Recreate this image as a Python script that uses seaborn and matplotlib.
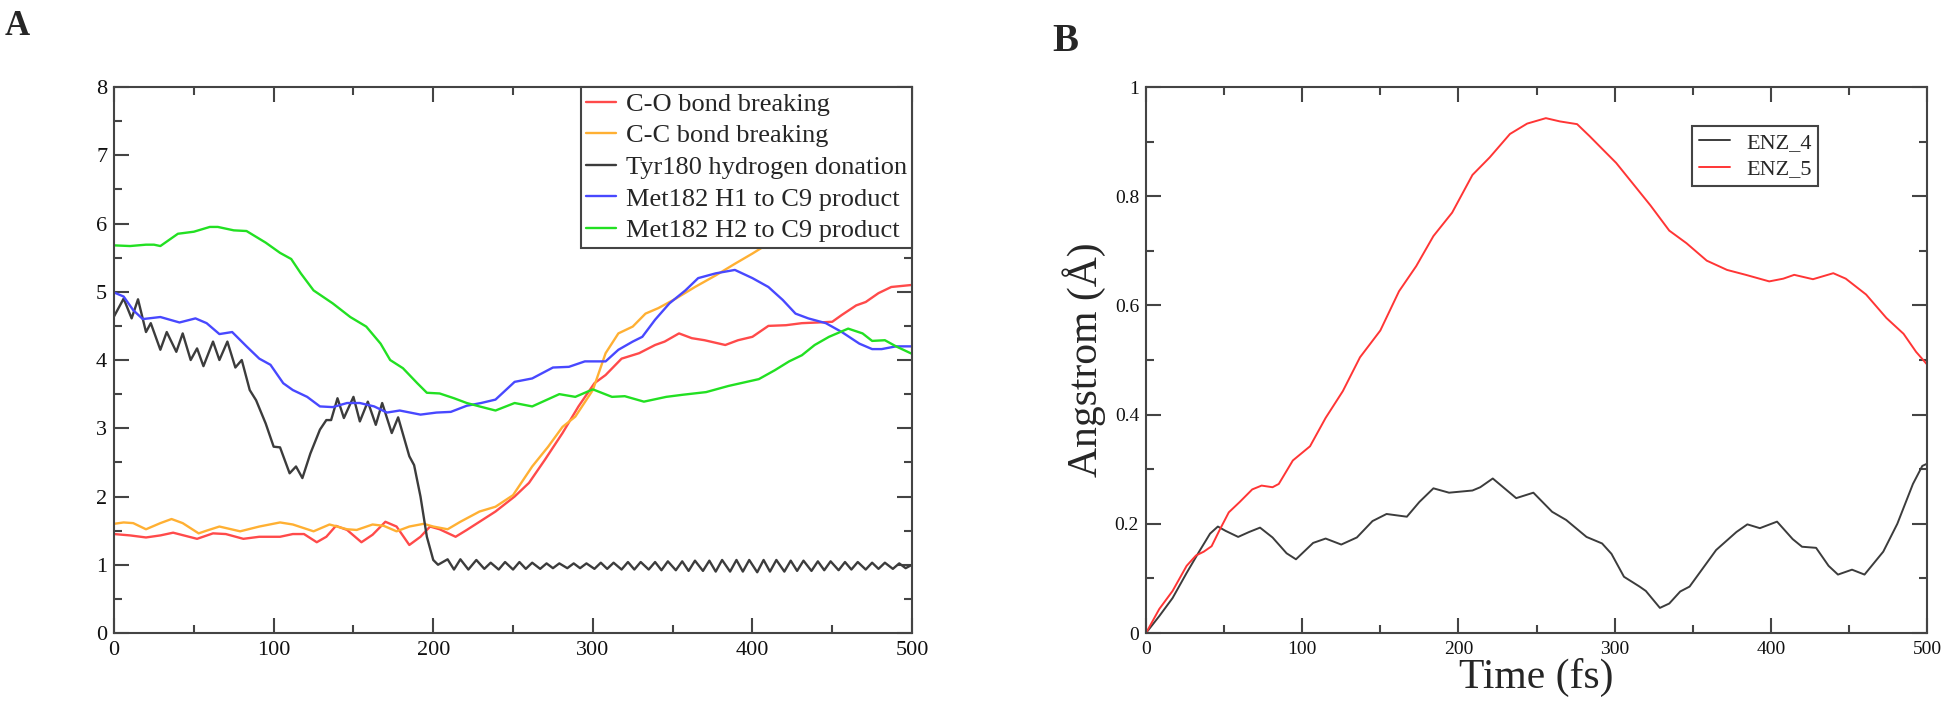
import pandas as pd
import matplotlib
matplotlib.use("Agg")
import matplotlib.pyplot as plt
import seaborn as sns
from matplotlib.ticker import MultipleLocator, FuncFormatter

# ---- panel A: distances (Angstrom) vs time (fs) ----
co_t = [0, 10, 20, 29, 37, 47, 52, 62, 70, 81, 91, 104, 112, 119, 127, 133, 139, 146, 155, 162,
        170, 177, 185, 192, 198, 204, 214, 221, 229, 239, 251, 260, 270, 281, 291, 301, 308, 318,
        329, 339, 345, 354, 362, 370, 383, 391, 400, 410, 421, 431, 441, 450, 456, 465, 471, 479,
        487, 500]
co_v = [1.45, 1.43, 1.40, 1.43, 1.47, 1.41, 1.38, 1.46, 1.45, 1.38, 1.41, 1.41, 1.45, 1.45, 1.33,
        1.41, 1.57, 1.51, 1.33, 1.44, 1.63, 1.56, 1.29, 1.41, 1.56, 1.52, 1.41, 1.51, 1.63, 1.78,
        2.00, 2.20, 2.54, 2.93, 3.32, 3.66, 3.78, 4.02, 4.10, 4.22, 4.27, 4.39, 4.32, 4.29, 4.22,
        4.29, 4.34, 4.50, 4.51, 4.54, 4.55, 4.56, 4.66, 4.80, 4.85, 4.98, 5.07, 5.10]

cc_t = [0, 6, 12, 20, 29, 36, 43, 53, 58, 66, 79, 91, 104, 112, 125, 135, 146, 152, 162, 169, 177,
        185, 194, 200, 209, 217, 229, 239, 250, 262, 272, 281, 289, 300, 308, 316, 325, 333, 341,
        352, 364, 377, 389, 400, 420, 450, 480, 500]
cc_v = [1.60, 1.62, 1.61, 1.52, 1.61, 1.67, 1.61, 1.46, 1.50, 1.56, 1.49, 1.56, 1.62, 1.59, 1.49,
        1.59, 1.52, 1.51, 1.59, 1.57, 1.49, 1.56, 1.60, 1.56, 1.52, 1.63, 1.78, 1.85, 2.02, 2.44,
        2.73, 3.02, 3.17, 3.56, 4.10, 4.39, 4.49, 4.68, 4.76, 4.90, 5.07, 5.24, 5.41, 5.56, 5.85,
        6.30, 6.70, 7.00]

tyr_t = [0, 6, 11, 15, 20, 23, 29, 33, 39, 43, 48, 52, 56, 62, 66, 71, 76, 80, 85, 89, 95, 100,
         104, 110, 114, 118, 123, 129, 133, 136, 140, 144, 150, 154, 159, 164, 168, 174, 178, 185,
         188, 192, 196, 200, 203, 209, 213, 217, 222, 227, 232, 236, 241,
         245, 250, 254, 258, 262, 267, 271, 275, 279, 284, 288, 292, 296, 301, 305, 309, 313, 318,
         322, 326, 330, 335, 339, 343, 347, 352, 356, 360, 364, 369, 373, 377, 381, 386, 390, 394,
         398, 403, 407, 411, 415, 420, 424, 428, 432, 437, 441, 445, 449, 454, 458, 462, 466, 471,
         475, 479, 483, 488, 492, 496, 500]
tyr_v = [4.64, 4.90, 4.61, 4.89, 4.41, 4.54, 4.15, 4.41, 4.12, 4.39, 4.00, 4.17, 3.91, 4.27, 4.00,
         4.27, 3.89, 4.00, 3.56, 3.41, 3.07, 2.73, 2.72, 2.34, 2.44, 2.27, 2.63, 2.98, 3.12, 3.12,
         3.44, 3.15, 3.46, 3.10, 3.39, 3.05, 3.37, 2.93, 3.16, 2.59, 2.46, 2.00, 1.41, 1.07, 1.00,
         1.08, 0.93, 1.08, 0.93, 1.07, 0.94, 1.03, 0.93,
         1.04, 0.93, 1.04, 0.94, 1.03, 0.94, 1.02, 0.95, 1.02, 0.95, 1.02, 0.95, 1.02, 0.94, 1.03,
         0.94, 1.03, 0.93, 1.04, 0.93, 1.04, 0.93, 1.04, 0.92, 1.05, 0.92, 1.05, 0.91, 1.06, 0.91,
         1.06, 0.90, 1.07, 0.90, 1.07, 0.90, 1.07, 0.89, 1.07, 0.90, 1.07, 0.90, 1.06, 0.91, 1.06,
         0.91, 1.05, 0.92, 1.05, 0.92, 1.04, 0.93, 1.04, 0.93, 1.03, 0.94, 1.03, 0.94, 1.02, 0.95,
         1.00]

h1_t = [0, 6, 12, 18, 29, 35, 41, 51, 58, 66, 74, 83, 91, 98, 106, 112, 121, 129, 137, 146, 154,
        163, 171, 179, 192, 202, 211, 221, 230, 239, 251, 262, 275, 285, 295, 308, 316, 325, 331,
        339, 348, 358, 366, 377, 389, 400, 410, 419, 427, 435, 446, 456, 467, 475, 481, 490, 500]
h1_v = [4.99, 4.93, 4.73, 4.60, 4.63, 4.59, 4.55, 4.61, 4.54, 4.38, 4.41, 4.20, 4.02, 3.93, 3.66,
        3.56, 3.46, 3.32, 3.31, 3.37, 3.37, 3.32, 3.23, 3.26, 3.20, 3.23, 3.24, 3.33, 3.37, 3.42,
        3.68, 3.73, 3.89, 3.90, 3.98, 3.98, 4.15, 4.27, 4.34, 4.59, 4.83, 5.02, 5.20, 5.27, 5.32,
        5.20, 5.07, 4.88, 4.68, 4.61, 4.54, 4.41, 4.24, 4.16, 4.16, 4.20, 4.20]

h2_t = [0, 10, 20, 25, 29, 40, 50, 60, 65, 75, 83, 95, 104, 111, 117, 125, 137, 148, 158, 167, 173,
        181, 190, 196, 204, 213, 221, 229, 239, 251, 262, 279, 289, 300, 312, 320, 332, 346, 356,
        371, 385, 404, 414, 423, 431, 439, 448, 460, 469, 475, 483, 490, 500]
h2_v = [5.68, 5.67, 5.69, 5.69, 5.67, 5.85, 5.88, 5.95, 5.95, 5.90, 5.89, 5.72, 5.57, 5.48, 5.27,
        5.02, 4.83, 4.63, 4.49, 4.24, 4.00, 3.88, 3.66, 3.52, 3.51, 3.44, 3.37, 3.32, 3.26, 3.37,
        3.32, 3.50, 3.46, 3.57, 3.46, 3.47, 3.39, 3.46, 3.49, 3.53, 3.62, 3.72, 3.85, 3.98, 4.07,
        4.22, 4.34, 4.46, 4.39, 4.28, 4.29, 4.20, 4.09]

labels_a = ["C-O bond breaking", "C-C bond breaking", "Tyr180 hydrogen donation",
            "Met182 H1 to C9 product", "Met182 H2 to C9 product"]
colors_a = ["#ff4a4a", "#ffb033", "#3c3c3c", "#4848ff", "#22e022"]

# ---- panel B: displacement (Angstrom) vs time (fs) ----
enz4_t = [0, 8.5, 17, 26, 34, 41, 46, 51, 59, 66, 73, 81, 90, 96, 107, 115, 125, 135, 145, 154,
          167, 175, 184, 194, 209, 214, 222, 237, 248, 260, 269, 282, 292, 298, 306, 316, 320, 329,
          335, 342, 348, 365, 378, 385, 393, 404, 414, 420, 429, 437, 443, 452, 460, 472, 481, 491,
          497, 500]
enz4_v = [0, 0.031, 0.064, 0.110, 0.149, 0.182, 0.195, 0.187, 0.176, 0.185, 0.193, 0.175, 0.146,
          0.135, 0.165, 0.173, 0.162, 0.175, 0.205, 0.218, 0.213, 0.240, 0.265, 0.257, 0.261, 0.267,
          0.283, 0.247, 0.257, 0.222, 0.207, 0.176, 0.164, 0.145, 0.103, 0.085, 0.077, 0.046, 0.054,
          0.076, 0.085, 0.152, 0.185, 0.199, 0.192, 0.204, 0.172, 0.158, 0.156, 0.123, 0.107, 0.116,
          0.107, 0.149, 0.200, 0.273, 0.306, 0.310]

enz5_t = [0, 8.5, 17, 26, 32, 37, 42, 47, 53, 60, 68, 74, 81, 85, 94, 105, 115, 126, 137, 150, 162,
          173, 184, 196, 209, 220, 233, 244, 256, 265, 276, 284, 293, 301, 312, 323, 335, 346, 359,
          372, 384, 399, 408, 415, 427, 440, 448, 461, 474, 485, 493, 500]
enz5_v = [0, 0.044, 0.077, 0.123, 0.142, 0.149, 0.159, 0.188, 0.221, 0.240, 0.263, 0.270, 0.267,
          0.273, 0.316, 0.342, 0.394, 0.443, 0.505, 0.554, 0.626, 0.672, 0.727, 0.770, 0.839, 0.871,
          0.914, 0.933, 0.943, 0.937, 0.932, 0.910, 0.884, 0.861, 0.822, 0.783, 0.737, 0.714, 0.682,
          0.665, 0.656, 0.644, 0.649, 0.656, 0.648, 0.659, 0.649, 0.620, 0.577, 0.548, 0.515, 0.492]

labels_b = ["ENZ_4", "ENZ_5"]
colors_b = ["#3c3c3c", "#ff3535"]


def long_frame(parts):
    return pd.concat([pd.DataFrame({"t": t, "v": v, "series": name}) for name, t, v in parts],
                     ignore_index=True)


def style_axes(ax, ymax, ymajor, yminor, labelsize):
    ax.set_xlim(0, 500)
    ax.set_ylim(0, ymax)
    ax.xaxis.set_major_locator(MultipleLocator(100))
    ax.xaxis.set_minor_locator(MultipleLocator(50))
    ax.yaxis.set_major_locator(MultipleLocator(ymajor))
    ax.yaxis.set_minor_locator(MultipleLocator(yminor))
    fmt = FuncFormatter(lambda x, pos: "%g" % round(x, 3))
    ax.xaxis.set_major_formatter(fmt)
    ax.yaxis.set_major_formatter(fmt)
    ax.tick_params(which="both", direction="in", top=True, right=True, color="#444444",
                   labelsize=labelsize, labelcolor="#111111")
    ax.tick_params(which="major", length=11, width=1.5)
    ax.tick_params(which="minor", length=5.5, width=1.5)
    ax.tick_params(axis="x", which="major", pad=6)
    ax.tick_params(axis="y", which="major", pad=5)
    for s in ax.spines.values():
        s.set_color("#444444")
        s.set_linewidth(1.5)
        s.set_visible(True)
    ax.set_xlabel("")
    ax.set_ylabel("")


sns.set_style("ticks")
plt.rcParams["font.family"] = ["Liberation Serif", "DejaVu Serif"]

fig = plt.figure(figsize=(19.5, 7.11), dpi=100)
ax_a = fig.add_axes([0.0585, 0.1097, 0.4092, 0.7679])
ax_b = fig.add_axes([0.5877, 0.1097, 0.4005, 0.7679])

df_a = long_frame([(labels_a[0], co_t, co_v), (labels_a[1], cc_t, cc_v),
                   (labels_a[2], tyr_t, tyr_v), (labels_a[3], h1_t, h1_v),
                   (labels_a[4], h2_t, h2_v)])
sns.lineplot(data=df_a, x="t", y="v", hue="series", hue_order=labels_a, palette=colors_a,
             estimator=None, sort=False, linewidth=1.7, ax=ax_a)
style_axes(ax_a, 8, 1, 0.5, 16)
h, l = ax_a.get_legend_handles_labels()
leg = ax_a.legend(h, l, loc="upper right", bbox_to_anchor=(1, 1), borderaxespad=0,
                  fontsize=19, borderpad=0.2, handlelength=1.15, handletextpad=0.35,
                  labelspacing=0.31, fancybox=False, framealpha=1, edgecolor="#444444")
leg.get_frame().set_linewidth(1.5)

df_b = long_frame([(labels_b[0], enz4_t, enz4_v), (labels_b[1], enz5_t, enz5_v)])
sns.lineplot(data=df_b, x="t", y="v", hue="series", hue_order=labels_b, palette=colors_b,
             estimator=None, sort=False, linewidth=1.4, ax=ax_b)
style_axes(ax_b, 1, 0.2, 0.1, 14)
ax_b.set_xlabel("Time (fs)", fontsize=30, labelpad=0)
ax_b.set_ylabel("Angstrom (Å)", fontsize=30, labelpad=6)
h, l = ax_b.get_legend_handles_labels()
leg = ax_b.legend(h, l, loc="upper left", bbox_to_anchor=(0.699, 0.929), borderaxespad=0,
                  fontsize=16, borderpad=0.31, handlelength=1.4, handletextpad=0.72,
                  labelspacing=0.26, fancybox=False, framealpha=1, edgecolor="#444444")
leg.get_frame().set_linewidth(1.5)

fig.text(0.0026, 0.986, "A", fontsize=25, fontweight="bold", va="top", ha="left")
fig.text(0.5395, 0.968, "B", fontsize=28, fontweight="bold", va="top", ha="left")

fig.savefig("out.png", dpi=100)
plt.close(fig)
